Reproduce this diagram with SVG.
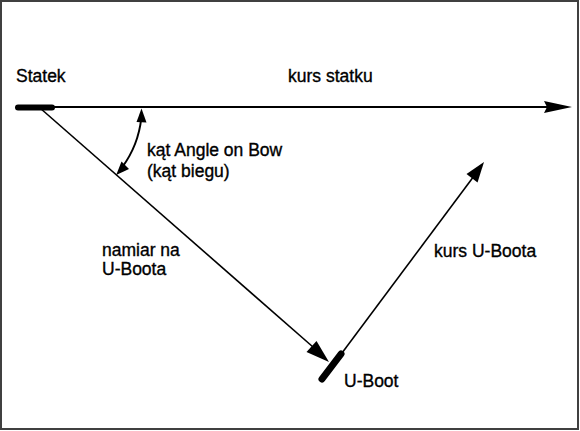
<svg xmlns="http://www.w3.org/2000/svg" width="580" height="431" viewBox="0 0 580 431">
<style>
text{font-family:"Liberation Sans",Arial,sans-serif;font-size:17.5px;fill:#000;stroke:#000;stroke-width:0.35}
.ln{stroke:#000;fill:none}
.ah{fill:#000;stroke:none}
.bar{stroke:#000;stroke-linecap:round}
</style>
<rect x="1" y="1" width="577" height="428" fill="#fff" stroke="#404040" stroke-width="2"/>
<g id="connectors">
<line class="ln" x1="52" y1="107" x2="548" y2="107" stroke-width="2"/>
<polygon class="ah" points="572,107 544,101 547,107 544,113"/>
<line class="ln" x1="40" y1="108" x2="313" y2="347" stroke-width="1.6"/>
<polygon class="ah" points="329,362 306.5,352 316.5,341"/>
<line class="ln" x1="339" y1="357" x2="474" y2="176" stroke-width="1.6"/>
<polygon class="ah" points="484,162 477.5,182.5 466.5,174"/>
<path class="ln" d="M141.3,118 A101.5,101.5 0 0 1 122,167.5" stroke-width="2"/>
<polygon class="ah" points="141.5,108.5 146.5,122.5 136.5,122"/>
<polygon class="ah" points="116.2,175.1 129,169 121.5,161.5"/>
</g>
<g id="statek">
<line class="bar" x1="18" y1="107.5" x2="52" y2="107.5" stroke-width="6"/>
<text x="16" y="82">Statek</text>
</g>
<g id="uboot">
<line class="bar" x1="322" y1="379" x2="341" y2="354" stroke-width="7"/>
<text x="344" y="387">U-Boot</text>
</g>
<g id="labels">
<text x="288" y="82">kurs statku</text>
<text x="147" y="156">kąt Angle on Bow</text>
<text x="147" y="177">(kąt biegu)</text>
<text x="102" y="256">namiar na</text>
<text x="102" y="275">U-Boota</text>
<text x="434" y="257">kurs U-Boota</text>
</g>
</svg>
